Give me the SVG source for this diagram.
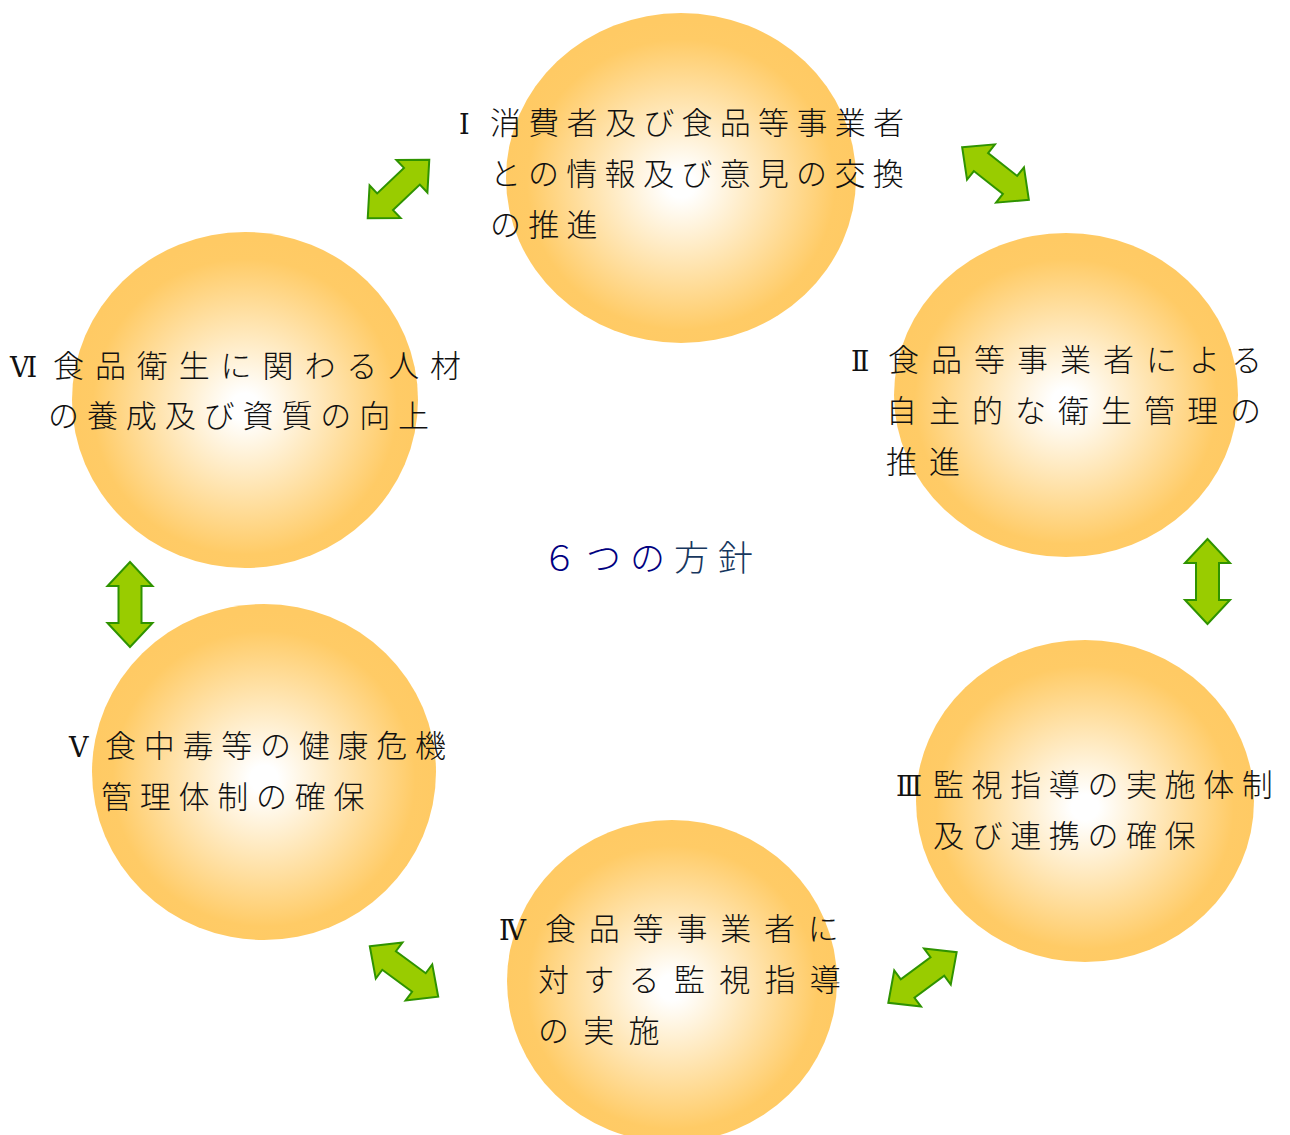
<svg xmlns="http://www.w3.org/2000/svg" width="1290" height="1135" viewBox="0 0 1290 1135">
<defs>
<radialGradient id="glow" cx="50%" cy="52%" r="50%">
<stop offset="0" stop-color="#FFFFFF"/>
<stop offset="0.08" stop-color="#FFFFFF"/>
<stop offset="0.88" stop-color="#FFCB66"/>
<stop offset="1" stop-color="#FFCA64"/>
</radialGradient>
<path id="dbl" d="M-42.5,0 L-18.5,-22.5 L-18.5,-11.5 L18.5,-11.5 L18.5,-22.5 L42.5,0 L18.5,22.5 L18.5,11.5 L-18.5,11.5 L-18.5,22.5 Z"/>
</defs>
<style>
.c{fill:url(#glow);}
.t{font-family:"Noto Sans CJK JP","Noto Sans CJK SC",sans-serif;font-size:31px;font-weight:300;fill:#111;}
.n{font-family:"DejaVu Serif","Noto Sans CJK JP",serif;font-size:27px;font-weight:400;fill:#111;}
.a{fill:#99CC00;stroke:#2F9300;stroke-width:2;stroke-linejoin:miter;}
.ctr{font-family:"Noto Sans CJK JP","Noto Sans CJK SC",sans-serif;font-size:35px;font-weight:300;}
</style>
<rect width="1290" height="1135" fill="#FFFFFF"/>

<g id="node1">
<ellipse class="c" cx="681" cy="178" rx="175" ry="165"/>
<text class="n" x="459" y="134">Ⅰ</text>
<text class="t" x="490" y="134" letter-spacing="7.3">消費者及び食品等事業者</text>
<text class="t" x="490" y="185" letter-spacing="7.3">との情報及び意見の交換</text>
<text class="t" x="490" y="236" letter-spacing="7.3">の推進</text>
</g>

<g id="node2">
<ellipse class="c" cx="1066" cy="395" rx="172" ry="162"/>
<text class="n" x="851" y="371">Ⅱ</text>
<text class="t" x="888" y="371" letter-spacing="12">食品等事業者による</text>
<text class="t" x="886" y="422" letter-spacing="12">自主的な衛生管理の</text>
<text class="t" x="886" y="473" letter-spacing="12">推進</text>
</g>

<g id="node3">
<ellipse class="c" cx="1085" cy="801" rx="169" ry="161"/>
<text class="n" x="896" y="796">Ⅲ</text>
<text class="t" x="933" y="796" letter-spacing="7.6">監視指導の実施体制</text>
<text class="t" x="933" y="847" letter-spacing="7.6">及び連携の確保</text>
</g>

<g id="node4">
<ellipse class="c" cx="672" cy="981" rx="165" ry="161"/>
<text class="n" x="499" y="940">Ⅳ</text>
<text class="t" x="545" y="940" letter-spacing="12.8">食品等事業者に</text>
<text class="t" x="538" y="991" letter-spacing="14.3">対する監視指導</text>
<text class="t" x="538" y="1042" letter-spacing="14.3">の実施</text>
</g>

<g id="node5">
<ellipse class="c" cx="264" cy="772" rx="172" ry="168"/>
<text class="n" x="69" y="757">Ⅴ</text>
<text class="t" x="105" y="757" letter-spacing="7.75">食中毒等の健康危機</text>
<text class="t" x="101" y="808" letter-spacing="7.75">管理体制の確保</text>
</g>

<g id="node6">
<ellipse class="c" cx="245" cy="400" rx="173" ry="168"/>
<text class="n" x="10" y="377">Ⅵ</text>
<text class="t" x="53" y="377" letter-spacing="10.9">食品衛生に関わる人材</text>
<text class="t" x="48" y="427" letter-spacing="7.9">の養成及び資質の向上</text>
</g>

<g id="center-label">
<text class="ctr" x="542" y="571" letter-spacing="9"><tspan fill="#000080">６つの</tspan><tspan fill="#17375E">方針</tspan></text>
</g>

<g id="connectors">
<use href="#dbl" class="a" transform="translate(398.5,189) rotate(-43.6)"/>
<use href="#dbl" class="a" transform="translate(995.5,173.5) rotate(38.3)"/>
<use href="#dbl" class="a" transform="translate(1207.5,581.5) rotate(90)"/>
<use href="#dbl" class="a" transform="translate(922.5,977.5) rotate(-36.5)"/>
<use href="#dbl" class="a" transform="translate(404,971.5) rotate(36.4)"/>
<use href="#dbl" class="a" transform="translate(130,604.5) rotate(90)"/>
</g>
</svg>
